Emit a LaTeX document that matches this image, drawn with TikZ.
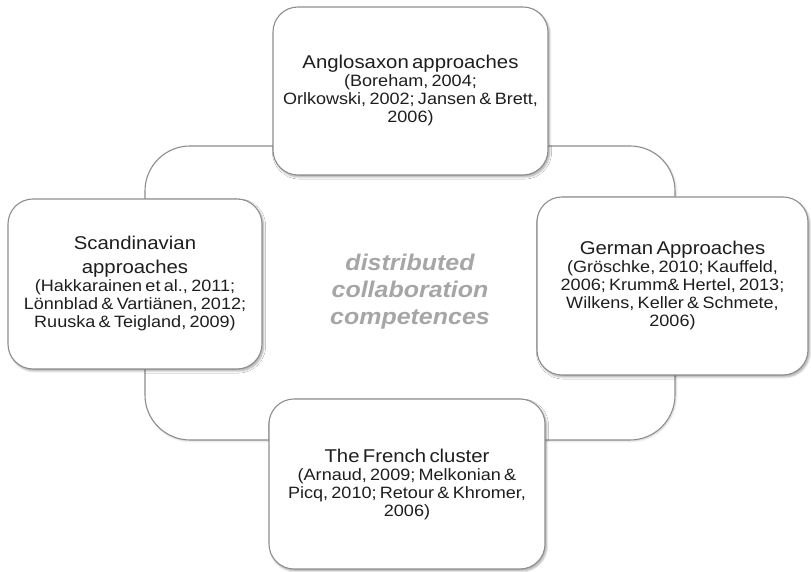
\documentclass[tikz,border=0pt]{standalone}
\usepackage{fontspec}
\setmainfont{Liberation Sans}[FakeStretch=1.1]
\usetikzlibrary{shadows.blur}
\definecolor{edgegray}{HTML}{8E8E8E}
\definecolor{inkgray}{HTML}{1E1E1E}
\definecolor{coregray}{HTML}{A6A6A6}
\newcommand{\headfont}{\fontsize{18.5}{24}\selectfont}
\newcommand{\citefont}{\fontsize{16.4}{18}\selectfont}
\begin{document}
\begin{tikzpicture}[x=1pt,y=1pt,
  ringbox/.style={draw=edgegray, line width=1.1pt, fill=white, rounded corners=45pt,
    minimum width=530pt, minimum height=294pt,
    blur shadow={shadow xshift=1pt, shadow yshift=-1pt, shadow blur steps=5, shadow opacity=20}},
  panel/.style={draw=edgegray, line width=1.1pt, fill=white, rounded corners=25pt,
    text=inkgray, align=center, inner sep=0pt,
    blur shadow={shadow xshift=1.5pt, shadow yshift=-2pt, shadow blur steps=6, shadow opacity=35}},
  coretext/.style={text=coregray, align=center, font=\fontsize{22.7}{27}\selectfont\bfseries\itshape}
]
\useasboundingbox (0,0) rectangle (811,572);

% shared background ring
\node[ringbox] (ring) at (410,279) {};

% four approach panels
\node[panel, minimum width=275pt, minimum height=168pt, text width=265pt] (anglo) at (410.5,481)
  {{\headfont Anglosaxon approaches\par}{\citefont (Boreham, 2004;\\Orlkowski, 2002; Jansen \& Brett,\\2006)\par}};

\node[panel, minimum width=254pt, minimum height=170pt, text width=245pt] (scandi) at (135,288)
  {{\headfont Scandinavian\\approaches\par}{\citefont (Hakkarainen et al., 2011;\\Lönnblad \& Vartiänen, 2012;\\Ruuska \& Teigland, 2009)\par}};

\node[panel, minimum width=271pt, minimum height=178pt, text width=262pt] (german) at (672.5,286)
  {{\headfont German Approaches\par}{\citefont (Gröschke, 2010; Kauffeld,\\2006; Krumm\& Hertel, 2013;\\Wilkens, Keller \& Schmete,\\2006)\par}};

\node[panel, minimum width=276pt, minimum height=170pt, text width=266pt] (french) at (407,88)
  {{\headfont The French cluster\par}{\citefont (Arnaud, 2009; Melkonian \&\\Picq, 2010; Retour \& Khromer,\\2006)\par}};

% central theme
\node[coretext] (core) at (410,280) {distributed\\collaboration\\competences};
\end{tikzpicture}
\end{document}
